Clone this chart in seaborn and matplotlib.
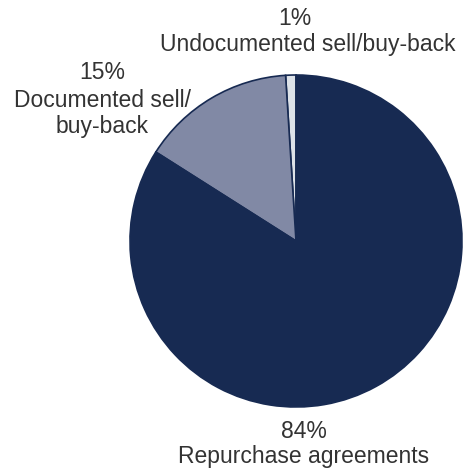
import matplotlib
matplotlib.use("Agg")
import matplotlib.pyplot as plt
import seaborn as sns

# Shares of the repo market by transaction type (%)
categories = ["Undocumented sell/buy-back", "Documented sell/buy-back", "Repurchase agreements"]
shares = [1, 15, 84]
colors = ["#dde2e8", "#8189a5", "#172a52"]

sns.set_theme(style="white")
plt.rcParams["font.family"] = ["Liberation Sans", "DejaVu Sans"]

W, H = 463, 472
fig = plt.figure(figsize=(W / 100, H / 100), dpi=100)
ax = fig.add_axes([0, 0, 1, 1])

cx, cy, r = 296, H - 241, 166
ax.pie(shares, colors=colors, startangle=90, counterclock=True,
       center=(cx, cy), radius=r,
       wedgeprops=dict(edgecolor="#172a52", linewidth=1.2))
ax.set_xlim(0, W)
ax.set_ylim(0, H)
ax.set_aspect("equal")
ax.axis("off")

txt = dict(fontsize=16.5, color="#333333", ha="center", va="baseline")
# Label lines: (x, baseline y from top, text)
lines = [
    (295, 25, f"{shares[0]}%"),
    (308, 51, categories[0]),
    (102, 79, f"{shares[1]}%"),
    (103, 107, "Documented sell/"),
    (102, 133, "buy-back"),
    (304, 438, f"{shares[2]}%"),
    (304, 463, categories[2]),
]
for x, y, s in lines:
    ax.text(x, H - y, s, **txt)

fig.savefig("out.png", dpi=100, facecolor="white")
